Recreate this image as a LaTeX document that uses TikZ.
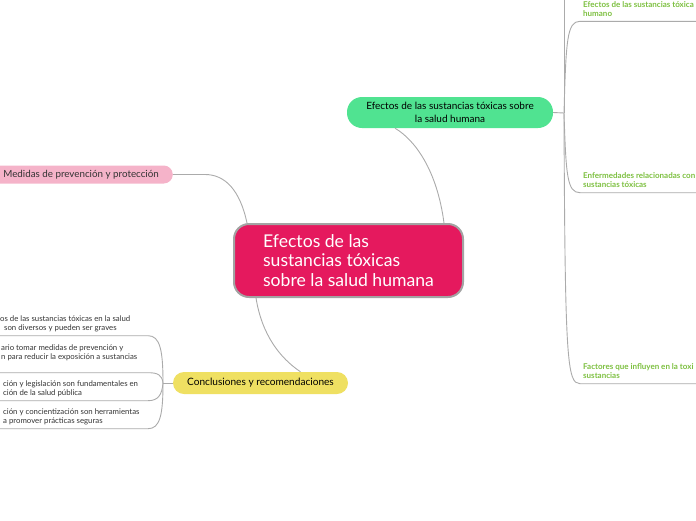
\documentclass[tikz,border=0pt]{standalone}
\usepackage{fontspec}
\setmainfont{Lato}
\definecolor{mainpink}{HTML}{E5195E}
\definecolor{bordergray}{HTML}{A3A3A3}
\definecolor{linegray}{HTML}{ABABAB}
\definecolor{greenfill}{HTML}{50E391}
\definecolor{pinkfill}{HTML}{F5B3C9}
\definecolor{yellowfill}{HTML}{EFE062}
\definecolor{childgreen}{HTML}{7CBF3F}
\definecolor{darktext}{HTML}{333333}
\tikzset{
  conn/.style={draw=linegray, line width=0.9pt},
  mainbox/.style={rectangle, rounded corners=15pt, fill=mainpink, draw=bordergray, line width=2pt,
    minimum width=229pt, minimum height=73pt, align=left, text=white, inner sep=0pt,
    font=\fontsize{17.6}{19.5}\selectfont},
  greenbox/.style={rectangle, rounded corners=15pt, fill=greenfill, minimum width=206pt,
    minimum height=31pt, align=center, text=black, inner sep=0pt,
    font=\fontsize{10}{12.4}\selectfont},
  pinkbox/.style={rectangle, rounded corners=9pt, fill=pinkfill, minimum height=18pt,
    inner xsep=14pt, inner ysep=0pt, text=darktext, font=\fontsize{9.8}{11}\selectfont},
  yellowbox/.style={rectangle, rounded corners=11pt, fill=yellowfill, minimum width=175pt,
    minimum height=22pt, inner sep=0pt, text=black, font=\fontsize{10.1}{11}\selectfont},
  rchild/.style={anchor=north west, inner sep=0pt, align=left, text=childgreen,
    font=\bfseries\fontsize{8}{9}\selectfont},
  lchild/.style={anchor=north west, inner sep=0pt, align=left, text=darktext,
    font=\fontsize{7.8}{9}\selectfont}
}
\begin{document}
\begin{tikzpicture}[x=1pt,y=-1pt]
\path[use as bounding box] (0,0) rectangle (696,520);
\clip (0,0) rectangle (696,520);

% main nodes
\node[mainbox] (main) at (348.5,260.5) {Efectos de las\\sustancias tóxicas\\sobre la salud humana};
\node[greenbox] (g) at (450,112.5) {Efectos de las sustancias tóxicas sobre\\la salud humana};
\node[pinkbox, anchor=east] (p) at (173,174.5) {Medidas de prevención y protección};
\node[yellowbox] (yel) at (260.5,383) {Conclusiones y recomendaciones};

% connectors from main
\draw[conn] ([xshift=-20pt]main.north east) .. controls (437,170) and (415,140) .. ([xshift=-55pt]g.south);
\draw[conn] ([xshift=14pt]main.north west) .. controls (240,190) and (225,174.5) .. (205,174.5) -- (p.east);
\draw[conn] ([xshift=23pt]main.south west) .. controls (262,335) and (280,358) .. ([xshift=40pt]yel.north);

% right side
\coordinate (rh) at (564,113);
\coordinate (rtop) at (564,0);
\coordinate (r1e) at (696,21.3);
\coordinate (r2e) at (696,192.7);
\coordinate (r3e) at (696,383.7);
\draw[conn] (g.east) -- (rh);
\draw[conn] (rh) -- (rtop);
\draw[conn] (rh) .. controls (566,40) and (567,21.3) .. (580,21.3) -- (r1e);
\draw[conn] (rh) .. controls (566,175) and (567,192.7) .. (580,192.7) -- (r2e);
\draw[conn] (rh) .. controls (565,360) and (567,383.7) .. (580,383.7) -- (r3e);

\node[rchild] (r1) at (583,1.2) {Efectos de las sustancias tóxica\\humano};
\node[rchild] (r2) at (583,172.5) {Enfermedades relacionadas con\\sustancias tóxicas};
\node[rchild] (r3) at (583,363.5) {Factores que influyen en la toxi\\sustancias};

% left side
\coordinate (lh) at (163,383);
\coordinate (l1e) at (0,335.7);
\coordinate (l2e) at (0,372.7);
\coordinate (l3e) at (0,400.7);
\coordinate (l4e) at (0,428.7);
\draw[conn] (yel.west) -- (lh);
\draw[conn] (lh) .. controls (163,350) and (160,335.7) .. (148,335.7) -- (l1e);
\draw[conn] (lh) .. controls (162,375) and (158,372.7) .. (148,372.7) -- (l2e);
\draw[conn] (lh) .. controls (162,395) and (158,400.7) .. (148,400.7) -- (l3e);
\draw[conn] (lh) .. controls (163,415) and (160,428.7) .. (148,428.7) -- (l4e);

\node[lchild] (l1) at (0,315.8) {os de las sustancias tóxicas en la salud\\\hspace*{4pt}son diversos y pueden ser graves};
\node[lchild] (l2) at (1,344.1) {ario tomar medidas de prevención y\\n para reducir la exposición a sustancias};
\node[lchild] (l3) at (3,380.8) {ción y legislación son fundamentales en\\ción de la salud pública};
\node[lchild] (l4) at (3,408.4) {ción y concientización son herramientas\\a promover prácticas seguras};
\end{tikzpicture}
\end{document}
